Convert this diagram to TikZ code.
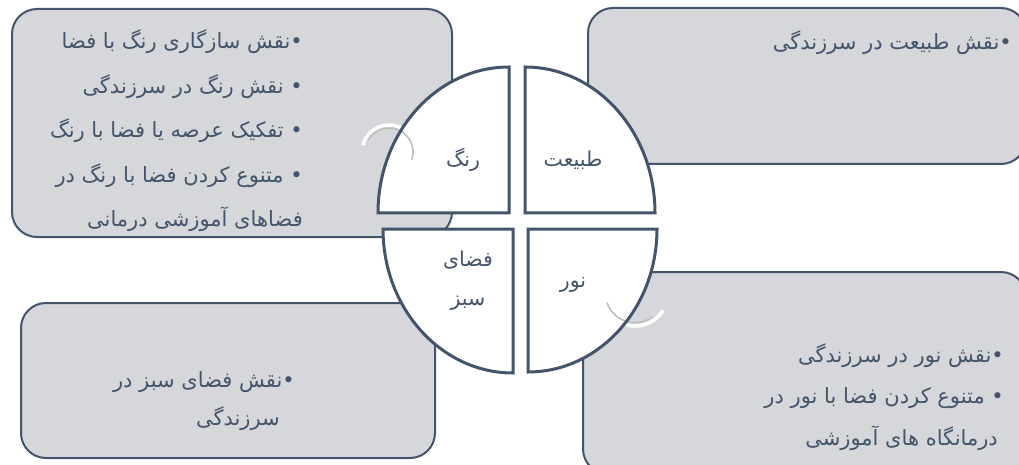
\documentclass[tikz,border=0pt]{standalone}
\usepackage{fontspec}
\TeXXeTstate=1
\newfontfamily\fa[Script=Arabic]{DejaVu Sans}
\definecolor{slate}{HTML}{44546A}
\definecolor{panel}{HTML}{D5D7DB}
\definecolor{arcgray}{HTML}{BFBFBF}
\tikzset{
  panelbox/.style={draw=slate, line width=2pt, fill=panel, rounded corners=25pt},
  quadfill/.style={fill=white},
  quadline/.style={draw=slate, line width=3pt, line join=miter},
  txt/.style={text=slate, font=\fa\fontsize{21}{24}\selectfont, inner sep=0pt, anchor=base east},
  lbl/.style={text=slate, font=\fa\fontsize{20.5}{24}\selectfont, inner sep=0pt},
  arcwhite/.style={draw=white, line width=3.5pt},
  arcline/.style={draw=arcgray, line width=1.6pt},
  qtl/.style={insert path={(509,251) -- (378,251) arc[start angle=180, end angle=90, x radius=131, y radius=146] -- cycle}},
  qtr/.style={insert path={(525,251) -- (525,397) arc[start angle=90, end angle=0, x radius=130, y radius=146] -- cycle}},
  qbl/.style={insert path={(513,235) -- (383,235) arc[start angle=180, end angle=270, x radius=130, y radius=144] -- cycle}},
  qbr/.style={insert path={(528,235) -- (657,235) arc[start angle=0, end angle=-90, x radius=129, y radius=143] -- cycle}},
}
\begin{document}
\begin{tikzpicture}[x=1pt,y=1pt]
\useasboundingbox (0,0) rectangle (1019,464);

% four text panels behind the circle
\path[panelbox] (12,227) rectangle (452,455);
\path[panelbox] (588,300) rectangle (1026,456);
\path[panelbox] (21,6) rectangle (435,161);
\path[panelbox] (583,-10) rectangle (1026,192);

% quadrant fills
\path[quadfill, qtl];
\path[quadfill, qtr];
\path[quadfill, qbl];
\path[quadfill, qbr];

% curved marks
\draw[arcwhite] (389,312) ++(165:27) arc[start angle=165, end angle=60, radius=27];
\draw[arcline] (389,312) ++(150:24) arc[start angle=150, end angle=-19, radius=24];
\draw[arcwhite] (635,171) ++(235:33) arc[start angle=235, end angle=328, radius=33];
\draw[arcline] (635,171) ++(199:29.6) arc[start angle=199, end angle=307, radius=29.6];

% quadrant outlines
\path[quadline, qtl];
\path[quadline, qtr];
\path[quadline, qbl];
\path[quadline, qbr];

% quadrant labels
\node[lbl] (rang) at (463,304) {\beginR رنگ\endR};
\node[lbl] (tabiat) at (573,304) {\beginR طبیعت\endR};
\node[lbl] (faza) at (468,204) {\beginR فضای\endR};
\node[lbl] (sabz) at (468,161) {\beginR سبز\endR};
\node[lbl] (noor) at (573,179) {\beginR نور\endR};

% colour panel
\node[txt] (c1) at (303,415) {\beginR •نقش سازگاری رنگ با فضا\endR};
\node[txt] (c2) at (303,370.5) {\beginR • نقش رنگ در سرزندگی\endR};
\node[txt] (c3) at (303,326) {\beginR • تفکیک عرصه یا فضا با رنگ\endR};
\node[txt] (c4) at (303,281.5) {\beginR • متنوع کردن فضا با رنگ در\endR};
\node[txt] (c5) at (303,237) {\beginR فضاهای آموزشی درمانی\endR};

% nature panel
\node[txt] (n1) at (1012,414) {\beginR •نقش طبیعت در سرزندگی\endR};

% green space panel
\node[txt] (g1) at (295,77) {\beginR •نقش فضای سبز در\endR};
\node[txt] (g2) at (280,39) {\beginR سرزندگی\endR};

% light panel
\node[txt] (l1) at (1004,102) {\beginR •نقش نور در سرزندگی\endR};
\node[txt] (l2) at (1004,61) {\beginR • متنوع کردن فضا با نور در\endR};
\node[txt] (l3) at (998,19) {\beginR درمانگاه های آموزشی\endR};
\end{tikzpicture}
\end{document}
